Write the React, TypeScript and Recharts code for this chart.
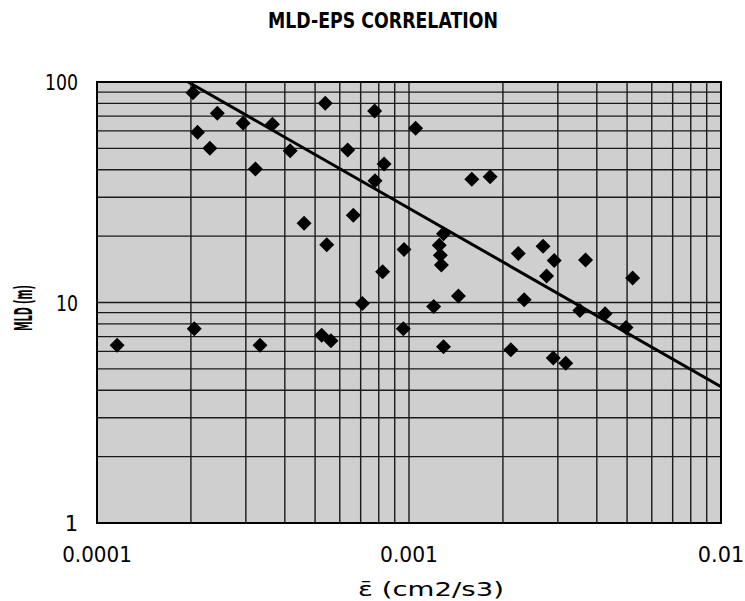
import React from "react";
import {
  ScatterChart,
  Scatter,
  XAxis,
  YAxis,
  CartesianGrid,
} from "recharts";

// dissipation rate (cm2/s3) and mixed layer depth (m)
const epsValues = [
  0.000116, 0.000203, 0.000205, 0.00021, 0.00023, 0.000243, 0.000294, 0.000322,
  0.000333, 0.000365, 0.000416, 0.000461, 0.000525, 0.000539, 0.000545, 0.000562,
  0.000636, 0.000663, 0.000709, 0.000776, 0.000778, 0.000823, 0.000832, 0.000959,
  0.000964, 0.00105, 0.0012, 0.00125, 0.00126, 0.00127, 0.00129, 0.00129,
  0.00144, 0.00159, 0.00182, 0.00212, 0.00224, 0.00234, 0.00269, 0.00276,
  0.0029, 0.00292, 0.00318, 0.00353, 0.00368, 0.00425, 0.00496, 0.00521,
];
const mldValues = [
  6.4, 89.4, 7.6, 59.1, 50.1, 72.1, 65.0, 40.3,
  6.4, 64.3, 48.8, 22.9, 7.1, 80.0, 18.3, 6.7,
  49.2, 24.9, 9.9, 73.9, 35.7, 13.8, 42.5, 7.6,
  17.4, 61.7, 9.6, 18.2, 16.4, 14.8, 20.5, 6.3,
  10.7, 36.2, 37.2, 6.1, 16.7, 10.3, 18.0, 13.2,
  5.6, 15.5, 5.3, 9.2, 15.6, 8.9, 7.7, 12.9,
];

// regression line end points
const fitEps = [0.000196, 0.01];
const fitMld = [100, 4.15];

// log grid positions
const xTicks = [
  0.0001, 0.0002, 0.0003, 0.0004, 0.0005, 0.0006, 0.0007, 0.0008, 0.0009,
  0.001, 0.002, 0.003, 0.004, 0.005, 0.006, 0.007, 0.008, 0.009, 0.01,
];
const yTicks = [
  1, 2, 3, 4, 5, 6, 7, 8, 9,
  10, 20, 30, 40, 50, 60, 70, 80, 90, 100,
];
const xLabelValues = [0.0001, 0.001, 0.01];
const xLabelTexts = ["0.0001", "0.001", "0.01"];
const yLabelValues = [1, 10, 100];
const yLabelTexts = ["1", "10", "100"];

const points = epsValues.map((x, i) => ({ x, y: mldValues[i] }));
const fitLine = fitEps.map((x, i) => ({ x, y: fitMld[i] }));

const FONT = "'DejaVu Sans', sans-serif";

const findLabel = (v: number, values: number[], texts: string[]) => {
  const i = values.findIndex((d) => Math.abs(v - d) < d * 1e-6);
  return i >= 0 ? texts[i] : null;
};

const XTick = (props: any) => {
  const { x, payload } = props;
  const label = findLabel(payload.value, xLabelValues, xLabelTexts);
  if (!label) return <g />;
  return (
    <text
      x={x}
      y={562}
      textAnchor="middle"
      fontFamily={FONT}
      fontSize={21}
      textLength={label.length * 11.6}
      lengthAdjust="spacingAndGlyphs"
      fill="#000"
    >
      {label}
    </text>
  );
};

const YTick = (props: any) => {
  const { y, payload } = props;
  const label = findLabel(payload.value, yLabelValues, yLabelTexts);
  if (!label) return <g />;
  const multi = label.length > 1;
  return (
    <text
      x={78}
      y={y + 8}
      textAnchor="end"
      fontFamily={FONT}
      fontSize={21}
      textLength={multi ? label.length * 11 : undefined}
      lengthAdjust={multi ? "spacingAndGlyphs" : undefined}
      fill="#000"
    >
      {label}
    </text>
  );
};

const Diamond = (props: any) => {
  const { cx, cy } = props;
  const r = 7.5;
  return (
    <polygon
      points={`${cx},${cy - r} ${cx + r},${cy} ${cx},${cy + r} ${cx - r},${cy}`}
      fill="#000"
    />
  );
};

const NoMark = () => <g />;

export default function App() {
  return (
    <div style={{ position: "absolute", left: 0, top: 0, width: 745, height: 601, background: "#fff" }}>
      <ScatterChart
        width={745}
        height={601}
        margin={{ top: 82, right: 24, left: 0, bottom: 0 }}
      >
        <CartesianGrid
          fill="#cfcfcf"
          stroke="#1a1a1a"
          strokeWidth={1.4}
          strokeOpacity={1}
        />
        <XAxis
          dataKey="x"
          type="number"
          scale="log"
          domain={[0.0001, 0.01]}
          ticks={xTicks}
          allowDataOverflow
          axisLine={false}
          tickLine={false}
          tick={<XTick />}
          height={78}
          interval={0}
        />
        <YAxis
          dataKey="y"
          type="number"
          scale="log"
          domain={[1, 100]}
          ticks={yTicks}
          allowDataOverflow
          axisLine={false}
          tickLine={false}
          tick={<YTick />}
          width={97}
          interval={0}
        />
        <Scatter
          data={fitLine}
          line={{ stroke: "#000", strokeWidth: 3 }}
          shape={<NoMark />}
          isAnimationActive={false}
        />
        <Scatter data={points} shape={<Diamond />} isAnimationActive={false} />
      </ScatterChart>
      <svg
        width={745}
        height={601}
        style={{ position: "absolute", left: 0, top: 0, pointerEvents: "none" }}
      >
        <rect x={97} y={82} width={624} height={441} fill="none" stroke="#000" strokeWidth={2} />
        <text
          x={383}
          y={28}
          textAnchor="middle"
          fontFamily={FONT}
          fontWeight="bold"
          fontSize={21}
          textLength={230}
          lengthAdjust="spacingAndGlyphs"
          fill="#000"
        >
          MLD-EPS CORRELATION
        </text>
        <text
          transform="translate(32, 308) rotate(-90)"
          textAnchor="middle"
          fontFamily={FONT}
          fontWeight="bold"
          fontSize={25}
          textLength={46}
          lengthAdjust="spacingAndGlyphs"
          fill="#000"
        >
          MLD (m)
        </text>
        <text
          x={431}
          y={596}
          textAnchor="middle"
          fontFamily={FONT}
          fontSize={20}
          textLength={146}
          lengthAdjust="spacingAndGlyphs"
          fill="#000"
        >
          {"\u03b5\u0304 (cm2/s3)"}
        </text>
      </svg>
    </div>
  );
}
